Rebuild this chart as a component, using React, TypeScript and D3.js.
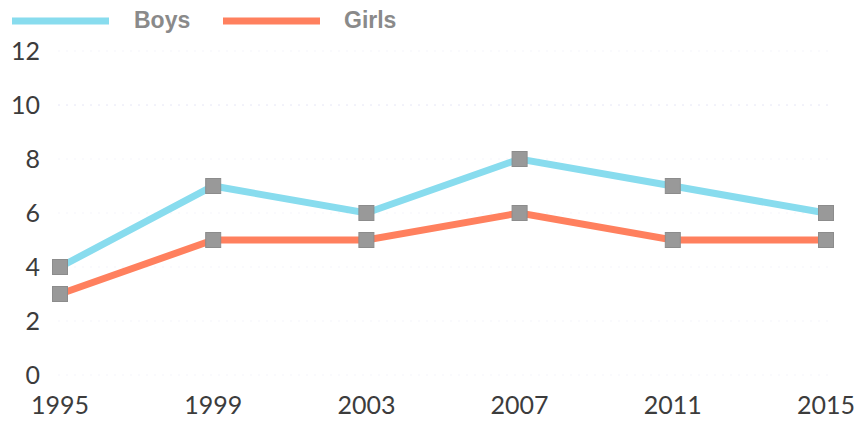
import React from "react";
import * as d3 from "d3";

const years = [1995, 1999, 2003, 2007, 2011, 2015];
const boys = [4, 7, 6, 8, 7, 6];
const girls = [3, 5, 5, 6, 5, 5];
const yTicks = [0, 2, 4, 6, 8, 10, 12];
const seriesNames = ["Boys", "Girls"];

const W = 860;
const H = 421;

export default function App() {
  const x = d3.scalePoint<number>().domain(years).range([60, 826]);
  const y = d3.scaleLinear().domain([0, 12]).range([375, 51]);
  const colors = ["#88dcee", "#ff805e"];
  const line = d3
    .line<number>()
    .x((_, i) => x(years[i]) as number)
    .y((d) => y(d));
  const series = [boys, girls];
  const ms = 15;

  return (
    <svg
      width={W}
      height={H}
      style={{ position: "absolute", left: 0, top: 0, background: "#fff" }}
    >
      {yTicks.map((t) => (
        <line
          key={"g" + t}
          x1={58}
          x2={832}
          y1={y(t)}
          y2={y(t)}
          stroke={t === 10 ? "#e6e6f6" : "#f5f5fb"}
          strokeWidth={1}
          strokeDasharray="2,6"
        />
      ))}
      {yTicks.map((t) => (
        <text
          key={"y" + t}
          x={40}
          y={y(t)}
          dy="0.35em"
          textAnchor="end"
          fontFamily="Lato"
          fontSize={25}
          fill="#3c3c3c"
        >
          {t}
        </text>
      ))}
      {years.map((yr) => (
        <text
          key={"x" + yr}
          x={x(yr) as number}
          y={414}
          textAnchor="middle"
          fontFamily="Lato"
          fontSize={25}
          fill="#3c3c3c"
        >
          {yr}
        </text>
      ))}
      {series.map((s, si) => (
        <path
          key={"l" + si}
          d={line(s) || ""}
          fill="none"
          stroke={colors[si]}
          strokeWidth={7}
          strokeLinejoin="miter"
        />
      ))}
      {series.map((s, si) =>
        s.map((v, i) => (
          <rect
            key={"m" + si + "-" + i}
            x={(x(years[i]) as number) - ms / 2}
            y={y(v) - ms / 2}
            width={ms}
            height={ms}
            fill="#999"
            stroke="#8c8c8c"
            strokeWidth={1}
          />
        ))
      )}
      {seriesNames.map((name, i) => {
        const lx = [12, 223][i];
        const tx = [134, 344][i];
        return (
          <g key={"leg" + name}>
            <line
              x1={lx}
              x2={lx + 97}
              y1={21}
              y2={21}
              stroke={colors[i]}
              strokeWidth={7}
            />
            <text
              x={tx}
              y={28}
              fontFamily="Liberation Sans"
              fontWeight="bold"
              fontSize={23}
              fill="#8a8a8a"
            >
              {name}
            </text>
          </g>
        );
      })}
    </svg>
  );
}
